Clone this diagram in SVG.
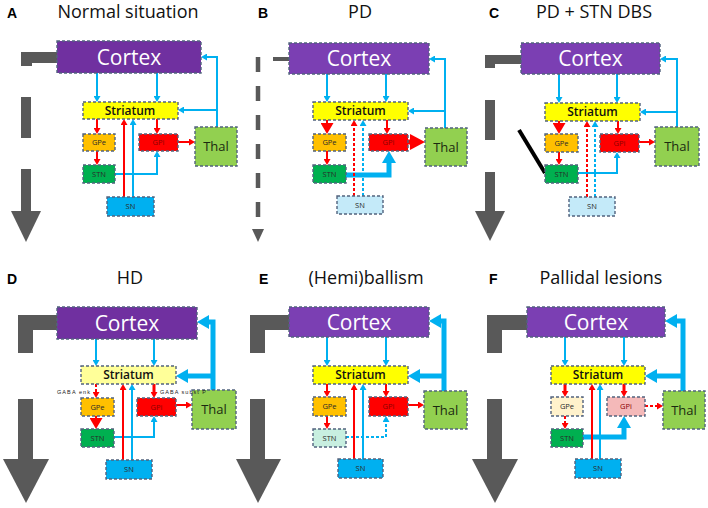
<svg xmlns="http://www.w3.org/2000/svg" width="708" height="508" viewBox="0 0 708 508">
<style>
.bx{stroke:#52637e;stroke-width:1.4;stroke-dasharray:3 2}
.ctx{fill:#ffffff;font:21px "Open Sans",sans-serif;text-anchor:middle}
.str{fill:#111;font:600 12px "Open Sans",sans-serif;text-anchor:middle}
.sm{fill:#2a2a2a;font:7.5px "Open Sans",sans-serif;text-anchor:middle}
.gpi{fill:#8b0000;font:7.5px "Open Sans",sans-serif;text-anchor:middle}
.thl{fill:#1b2a10;font:13px "Open Sans",sans-serif;text-anchor:middle}
.ttl{fill:#111;font:18px "Open Sans",sans-serif;text-anchor:middle}
.lt{fill:#000;font:bold 14px "Liberation Sans",Arial,sans-serif}
.gab{fill:#222;font:5.5px "Liberation Sans",Arial,sans-serif}
.b{fill:none;stroke:#00b0f0;stroke-width:2}
.r{fill:none;stroke:#ff0000;stroke-width:2}
.bL{fill:none;stroke:#00b0f0;stroke-width:5}
.rL{fill:none;stroke:#ff0000;stroke-width:5}
.d{stroke-dasharray:3 2}
.g{fill:#595959}
</style>
<defs>
<marker id="mb" markerUnits="userSpaceOnUse" viewBox="0 0 6 7" markerWidth="6" markerHeight="7" refX="0" refY="3.5" orient="auto"><path d="M0,0L6,3.5L0,7z" fill="#00b0f0"/></marker>
<marker id="mr" markerUnits="userSpaceOnUse" viewBox="0 0 6 7" markerWidth="6" markerHeight="7" refX="0" refY="3.5" orient="auto"><path d="M0,0L6,3.5L0,7z" fill="#ff0000"/></marker>
<marker id="mbL" markerUnits="userSpaceOnUse" viewBox="0 0 12 14" markerWidth="12" markerHeight="14" refX="0" refY="7" orient="auto"><path d="M0,0L12,7L0,14z" fill="#00b0f0"/></marker>
<marker id="mrL" markerUnits="userSpaceOnUse" viewBox="0 0 15 16" markerWidth="15" markerHeight="16" refX="0" refY="8" orient="auto"><path d="M0,0L15,8L0,16z" fill="#ff0000"/></marker>
<marker id="mrT" markerUnits="userSpaceOnUse" viewBox="0 0 11 13" markerWidth="11" markerHeight="13" refX="0" refY="6.5" orient="auto"><path d="M0,0L11,6.5L0,13z" fill="#ff0000"/></marker>
</defs>
<rect width="708" height="508" fill="#ffffff"/>

<!-- titles -->
<g id="titles">
<text class="lt" x="7" y="18">A</text><text class="ttl" x="128" y="18">Normal situation</text>
<text class="lt" x="258" y="18">B</text><text class="ttl" x="360" y="18">PD</text>
<text class="lt" x="489" y="18">C</text><text class="ttl" x="594" y="18">PD + STN DBS</text>
<text class="lt" x="7" y="284">D</text><text class="ttl" x="130" y="284">HD</text>
<text class="lt" x="259" y="284">E</text><text class="ttl" x="366" y="284">(Hemi)ballism</text>
<text class="lt" x="489" y="284">F</text><text class="ttl" x="601" y="284">Pallidal lesions</text>
</g>

<!-- big gray arrows -->
<g id="gray-arrows" class="g">
<rect x="21" y="52" width="36" height="11"/><rect x="21" y="52" width="11" height="14"/>
<rect x="21" y="97" width="10" height="41"/><rect x="21" y="169" width="10" height="42"/>
<polygon points="11,211 41,211 26,242"/>
<rect x="273" y="57" width="16" height="4"/>
<path d="M258,57V217" stroke="#595959" stroke-width="4.5" stroke-dasharray="15 14" fill="none"/>
<polygon points="252,229 264,229 258,242"/>
<rect x="485" y="55" width="36" height="9"/><rect x="485" y="55" width="10" height="13"/>
<rect x="485" y="100" width="10" height="40"/><rect x="485" y="172" width="10" height="39"/>
<polygon points="475,211 505,211 490,241"/>
<rect x="18" y="315" width="39" height="15"/><rect x="18" y="315" width="15" height="38"/>
<rect x="18" y="399" width="15" height="60"/>
<polygon points="3,459 49,459 26,503"/>
<rect x="250" y="315" width="39" height="15"/><rect x="250" y="315" width="15" height="38"/>
<rect x="250" y="399" width="15" height="60"/>
<polygon points="236,459 281,459 258,503"/>
<rect x="487" y="315" width="40" height="15"/><rect x="487" y="315" width="15" height="38"/>
<rect x="487" y="399" width="15" height="60"/>
<polygon points="472,459 518,459 495,503"/>
</g>

<!-- connectors -->
<g id="connectors">
<!-- A -->
<path class="b" d="M97,73V96" marker-end="url(#mb)"/>
<path class="b" d="M157,73V96" marker-end="url(#mb)"/>
<path class="b" d="M217,127V57H207" marker-end="url(#mb)"/>
<path class="b" d="M217,110H184" marker-end="url(#mb)"/>
<path class="r" d="M97,119V128" marker-end="url(#mr)"/>
<path class="r" d="M157,119V128" marker-end="url(#mr)"/>
<path class="r" d="M97,151V159" marker-end="url(#mr)"/>
<path class="r" d="M178,142H189" marker-end="url(#mr)"/>
<path class="b" d="M115,174H157V157" marker-end="url(#mb)"/>
<path class="r" d="M124,197V125" marker-end="url(#mr)"/>
<path class="b" d="M133,197V125" marker-end="url(#mb)"/>
<!-- B -->
<path class="b" d="M327,74V96" marker-end="url(#mb)"/>
<path class="b" d="M386,74V96" marker-end="url(#mb)"/>
<path class="b" d="M445,128V59H435" marker-end="url(#mb)"/>
<path class="b" d="M445,111H414" marker-end="url(#mb)"/>
<path class="r" d="M327,120V123" marker-end="url(#mrT)"/>
<path class="r" d="M387,120V128" marker-end="url(#mr)"/>
<path class="r" d="M327,151V159" marker-end="url(#mr)"/>
<path class="rL" d="M408,142H410" marker-end="url(#mrL)"/>
<path class="bL" d="M346,175H389V163" marker-end="url(#mbL)"/>
<path class="r d" d="M354,196V126" marker-end="url(#mr)"/>
<path class="b d" d="M363,196V126" marker-end="url(#mb)"/>
<!-- C -->
<path class="b" d="M559,74V97" marker-end="url(#mb)"/>
<path class="b" d="M617,74V97" marker-end="url(#mb)"/>
<path class="b" d="M677,127V59H666" marker-end="url(#mb)"/>
<path class="b" d="M677,112H646" marker-end="url(#mb)"/>
<path class="r" d="M559,121V123" marker-end="url(#mrT)"/>
<path class="r" d="M618,121V128" marker-end="url(#mr)"/>
<path class="r" d="M559,152V159" marker-end="url(#mr)"/>
<path class="r" d="M639,142H649" marker-end="url(#mr)"/>
<path class="b" d="M578,173H617V158" marker-end="url(#mb)"/>
<path class="r d" d="M587,197V127" marker-end="url(#mr)"/>
<path class="b d" d="M595,197V127" marker-end="url(#mb)"/>
<path d="M519,130L545,173" stroke="#000" stroke-width="4" fill="none"/>
<!-- D -->
<path class="b" d="M96,339V360" marker-end="url(#mb)"/>
<path class="b" d="M154,339V360" marker-end="url(#mb)"/>
<path class="bL" d="M213,390V322H209" marker-end="url(#mbL)"/>
<path class="bL" d="M213,376H188" marker-end="url(#mbL)"/>
<path class="r d" d="M96,384V392" marker-end="url(#mr)"/>
<path class="r" style="stroke-width:3" d="M154,384V392" marker-end="url(#mr)"/>
<path class="r" d="M96,416V418" marker-end="url(#mrT)"/>
<path class="r" d="M176,405H186" marker-end="url(#mr)"/>
<path class="b" d="M114,437H154V422" marker-end="url(#mb)"/>
<path class="r" d="M123,460V390" marker-end="url(#mr)"/>
<path class="b" d="M132,460V390" marker-end="url(#mb)"/>
<!-- E -->
<path class="b" d="M327,337V360" marker-end="url(#mb)"/>
<path class="b" d="M386,337V360" marker-end="url(#mb)"/>
<path class="bL" d="M444,391V321H441" marker-end="url(#mbL)"/>
<path class="bL" d="M444,376H420" marker-end="url(#mbL)"/>
<path class="r" d="M327,384V391" marker-end="url(#mr)"/>
<path class="r" d="M386,384V391" marker-end="url(#mr)"/>
<path class="r" d="M327,416V423" marker-end="url(#mr)"/>
<path class="r" d="M408,405H418" marker-end="url(#mr)"/>
<path class="b d" d="M346,437H386V422" marker-end="url(#mb)"/>
<path class="r" d="M354,459V390" marker-end="url(#mr)"/>
<path class="b" d="M363,459V390" marker-end="url(#mb)"/>
<!-- F -->
<path class="b" d="M565,337V360" marker-end="url(#mb)"/>
<path class="b" d="M624,337V360" marker-end="url(#mb)"/>
<path class="bL" d="M683,391V321H677" marker-end="url(#mbL)"/>
<path class="bL" d="M683,376H657" marker-end="url(#mbL)"/>
<path class="r" style="stroke-width:3" d="M565,384V391" marker-end="url(#mr)"/>
<path class="r" style="stroke-width:3" d="M624,384V391" marker-end="url(#mr)"/>
<path class="r d" d="M565,416V423" marker-end="url(#mr)"/>
<path class="r d" d="M645,406H657" marker-end="url(#mr)"/>
<path class="bL" d="M583,437H624V428" marker-end="url(#mbL)"/>
<path class="r" d="M592,459V390" marker-end="url(#mr)"/>
<path class="b" d="M600,459V390" marker-end="url(#mb)"/>
</g>

<!-- Panel A nodes -->
<g id="A-cortex"><rect class="bx" x="57" y="41" width="144" height="32" fill="#7030a0"/><text class="ctx" x="129" y="64.5">Cortex</text></g>
<g id="A-striatum"><rect class="bx" x="83" y="102" width="95" height="17" fill="#ffff00"/><text class="str" x="130" y="114.8">Striatum</text></g>
<g id="A-gpe"><rect class="bx" x="83" y="134" width="32" height="17" fill="#ffc000"/><text class="sm" x="99" y="145.2">GPe</text></g>
<g id="A-gpi"><rect class="bx" x="139" y="134" width="39" height="17" fill="#ff0000"/><text class="gpi" x="158.5" y="145.2">GPi</text></g>
<g id="A-stn"><rect class="bx" x="83" y="165" width="32" height="18" fill="#00b050"/><text class="sm" x="99" y="176.7">STN</text></g>
<g id="A-sn"><rect class="bx" x="107" y="197" width="47" height="19" fill="#00b0f0"/><text class="sm" x="130.5" y="209.2">SN</text></g>
<g id="A-thal"><rect class="bx" x="195" y="127" width="42" height="39" fill="#92d050"/><text class="thl" x="216" y="151.2">Thal</text></g>

<!-- Panel B nodes -->
<g id="B-cortex"><rect class="bx" x="289" y="43" width="140" height="31" fill="#7b3fb3"/><text class="ctx" x="359" y="66">Cortex</text></g>
<g id="B-striatum"><rect class="bx" x="313" y="102" width="95" height="18" fill="#ffff00"/><text class="str" x="360.5" y="115.3">Striatum</text></g>
<g id="B-gpe"><rect class="bx" x="313" y="134" width="33" height="17" fill="#ffc000"/><text class="sm" x="329.5" y="145.2">GPe</text></g>
<g id="B-gpi"><rect class="bx" x="369" y="134" width="39" height="17" fill="#ff0000"/><text class="gpi" x="388.5" y="145.2">GPi</text></g>
<g id="B-stn"><rect class="bx" x="313" y="165" width="33" height="18" fill="#00b050"/><text class="sm" x="329.5" y="176.7">STN</text></g>
<g id="B-sn"><rect class="bx" x="337" y="196" width="46" height="18" fill="#c4eaf9"/><text class="sm" x="360" y="207.7">SN</text></g>
<g id="B-thal"><rect class="bx" x="425" y="128" width="42" height="38" fill="#92d050"/><text class="thl" x="446" y="151.7">Thal</text></g>

<!-- Panel C nodes -->
<g id="C-cortex"><rect class="bx" x="521" y="43" width="139" height="31" fill="#7b3fb3"/><text class="ctx" x="590.5" y="66">Cortex</text></g>
<g id="C-striatum"><rect class="bx" x="545" y="103" width="95" height="18" fill="#ffff00"/><text class="str" x="592.5" y="116.3">Striatum</text></g>
<g id="C-gpe"><rect class="bx" x="545" y="134" width="33" height="18" fill="#ffc000"/><text class="sm" x="561.5" y="145.7">GPe</text></g>
<g id="C-gpi"><rect class="bx" x="600" y="134" width="39" height="18" fill="#ff0000"/><text class="gpi" x="619.5" y="145.7">GPi</text></g>
<g id="C-stn"><rect class="bx" x="545" y="165" width="33" height="18" fill="#00b050"/><text class="sm" x="561.5" y="176.7">STN</text></g>
<g id="C-sn"><rect class="bx" x="569" y="197" width="46" height="19" fill="#c4eaf9"/><text class="sm" x="592" y="209.2">SN</text></g>
<g id="C-thal"><rect class="bx" x="655" y="127" width="44" height="39" fill="#92d050"/><text class="thl" x="677" y="151.2">Thal</text></g>

<!-- Panel D nodes -->
<g id="D-cortex"><rect class="bx" x="57" y="307" width="140" height="32" fill="#7030a0"/><text class="ctx" x="127" y="330.5">Cortex</text></g>
<g id="D-striatum"><rect class="bx" x="81" y="366" width="95" height="18" fill="#ffff99"/><text class="str" x="128.5" y="379.3">Striatum</text></g>
<g id="D-gpe"><rect class="bx" x="81" y="398" width="33" height="18" fill="#ffc000"/><text class="sm" x="97.5" y="409.7">GPe</text></g>
<g id="D-gpi"><rect class="bx" x="137" y="398" width="39" height="18" fill="#ff0000"/><text class="gpi" x="156.5" y="409.7">GPi</text></g>
<g id="D-stn"><rect class="bx" x="81" y="429" width="33" height="18" fill="#00b050"/><text class="sm" x="97.5" y="440.7">STN</text></g>
<g id="D-sn"><rect class="bx" x="106" y="460" width="46" height="19" fill="#00b0f0"/><text class="sm" x="129" y="472.2">SN</text></g>
<g id="D-thal"><rect class="bx" x="192" y="390" width="44" height="39" fill="#92d050"/><text class="thl" x="214" y="414.2">Thal</text></g>
<g id="D-labels"><text class="gab" x="90" y="394" text-anchor="end" textLength="33">GABA enk</text><text class="gab" x="160" y="394" textLength="46">GABA subst P</text></g>

<!-- Panel E nodes -->
<g id="E-cortex"><rect class="bx" x="289" y="307" width="140" height="30" fill="#7b3fb3"/><text class="ctx" x="359" y="329.5">Cortex</text></g>
<g id="E-striatum"><rect class="bx" x="313" y="366" width="95" height="18" fill="#ffff00"/><text class="str" x="360.5" y="379.3">Striatum</text></g>
<g id="E-gpe"><rect class="bx" x="313" y="397" width="33" height="19" fill="#ffc000"/><text class="sm" x="329.5" y="409.2">GPe</text></g>
<g id="E-gpi"><rect class="bx" x="369" y="397" width="39" height="19" fill="#ff0000"/><text class="gpi" x="388.5" y="409.2">GPi</text></g>
<g id="E-stn"><rect class="bx" x="313" y="429" width="33" height="18" fill="#c8efe0"/><text class="sm" x="329.5" y="440.7">STN</text></g>
<g id="E-sn"><rect class="bx" x="338" y="459" width="45" height="19" fill="#00b0f0"/><text class="sm" x="360.5" y="471.2">SN</text></g>
<g id="E-thal"><rect class="bx" x="424" y="391" width="43" height="38" fill="#92d050"/><text class="thl" x="445.5" y="414.7">Thal</text></g>

<!-- Panel F nodes -->
<g id="F-cortex"><rect class="bx" x="527" y="307" width="138" height="30" fill="#7b3fb3"/><text class="ctx" x="596" y="329.5">Cortex</text></g>
<g id="F-striatum"><rect class="bx" x="551" y="366" width="94" height="18" fill="#ffff00"/><text class="str" x="598" y="379.3">Striatum</text></g>
<g id="F-gpe"><rect class="bx" x="551" y="397" width="32" height="19" fill="#fff2cc"/><text class="sm" x="567" y="409.2">GPe</text></g>
<g id="F-gpi"><rect class="bx" x="607" y="397" width="38" height="19" fill="#f4b9b9"/><text class="gpi" x="626" y="409.2">GPi</text></g>
<g id="F-stn"><rect class="bx" x="551" y="429" width="32" height="18" fill="#00b050"/><text class="sm" x="567" y="440.7">STN</text></g>
<g id="F-sn"><rect class="bx" x="575" y="459" width="46" height="19" fill="#00b0f0"/><text class="sm" x="598" y="471.2">SN</text></g>
<g id="F-thal"><rect class="bx" x="663" y="391" width="42" height="38" fill="#92d050"/><text class="thl" x="684" y="414.7">Thal</text></g>
</svg>
